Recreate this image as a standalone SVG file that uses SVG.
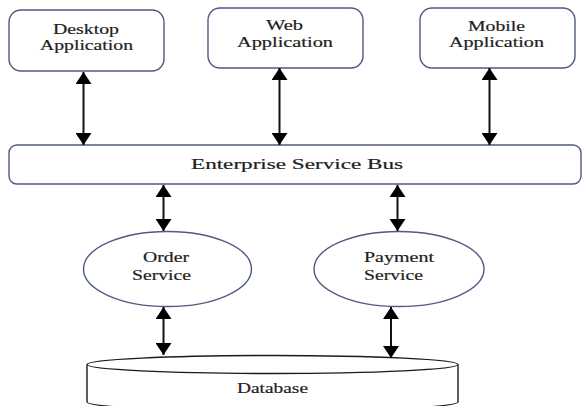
<svg xmlns="http://www.w3.org/2000/svg" width="582" height="406" viewBox="0 0 582 406">
  <style>
    .box { fill: #ffffff; stroke: #4d5b82; stroke-width: 1.4; }
    .db { fill: #ffffff; stroke: #1a1a1a; stroke-width: 1.4; }
    .lbl { font-family: "Liberation Serif", "Times New Roman", serif; font-size: 15px; fill: #1e1e1e; stroke: #1e1e1e; stroke-width: 0.2; }
    .conn { stroke: #111111; stroke-width: 2; fill: none; marker-start: url(#head); marker-end: url(#head); }
  </style>
  <defs>
    <marker id="head" viewBox="0 0 12 16" refX="12" refY="8" markerWidth="12" markerHeight="16" markerUnits="userSpaceOnUse" orient="auto-start-reverse">
      <path d="M0,0 L12,8 L0,16 Z" fill="#000000"/>
    </marker>
  </defs>
  <rect width="582" height="406" fill="#ffffff"/>

  <!-- client applications -->
  <g id="desktop">
    <rect class="box" x="9" y="10" width="155" height="61" rx="12"/>
    <text class="lbl" x="53" y="34" textLength="66" lengthAdjust="spacingAndGlyphs">Desktop</text>
    <text class="lbl" x="40" y="50" textLength="93" lengthAdjust="spacingAndGlyphs">Application</text>
  </g>
  <g id="web">
    <rect class="box" x="208" y="8" width="155" height="60" rx="12"/>
    <text class="lbl" x="266" y="30" textLength="37" lengthAdjust="spacingAndGlyphs">Web</text>
    <text class="lbl" x="237" y="47" textLength="96" lengthAdjust="spacingAndGlyphs">Application</text>
  </g>
  <g id="mobile">
    <rect class="box" x="420" y="8" width="155" height="60" rx="12"/>
    <text class="lbl" x="468" y="31" textLength="57" lengthAdjust="spacingAndGlyphs">Mobile</text>
    <text class="lbl" x="449" y="47" textLength="95" lengthAdjust="spacingAndGlyphs">Application</text>
  </g>

  <!-- service bus -->
  <g id="esb">
    <rect class="box" x="9" y="145" width="572" height="39" rx="8"/>
    <text class="lbl" x="191" y="169" textLength="212" lengthAdjust="spacingAndGlyphs">Enterprise Service Bus</text>
  </g>

  <!-- services -->
  <g id="order">
    <ellipse class="box" cx="167.5" cy="269" rx="84" ry="37.5"/>
    <text class="lbl" x="143" y="262" textLength="46" lengthAdjust="spacingAndGlyphs">Order</text>
    <text class="lbl" x="132" y="280" textLength="59" lengthAdjust="spacingAndGlyphs">Service</text>
  </g>
  <g id="payment">
    <ellipse class="box" cx="399" cy="269" rx="85" ry="37.5"/>
    <text class="lbl" x="364" y="262" textLength="70" lengthAdjust="spacingAndGlyphs">Payment</text>
    <text class="lbl" x="364" y="280" textLength="59" lengthAdjust="spacingAndGlyphs">Service</text>
  </g>

  <!-- data store -->
  <g id="database">
    <path class="db" d="M87,365 L87,402 A185.5,9 0 0 0 458,402 L458,365"/>
    <ellipse class="db" cx="272.5" cy="364.5" rx="185.5" ry="9"/>
    <text class="lbl" x="237" y="393" textLength="71" lengthAdjust="spacingAndGlyphs">Database</text>
  </g>

  <!-- two-way connectors -->
  <g id="connectors">
    <line class="conn" x1="83.5" y1="72" x2="83.5" y2="145"/>
    <line class="conn" x1="279.5" y1="68" x2="279.5" y2="145"/>
    <line class="conn" x1="489.5" y1="68" x2="489.5" y2="145"/>
    <line class="conn" x1="163.5" y1="185" x2="163.5" y2="231"/>
    <line class="conn" x1="397.5" y1="185" x2="397.5" y2="231"/>
    <line class="conn" x1="163.5" y1="307" x2="163.5" y2="355"/>
    <line class="conn" x1="391" y1="307" x2="391" y2="358"/>
  </g>
</svg>
